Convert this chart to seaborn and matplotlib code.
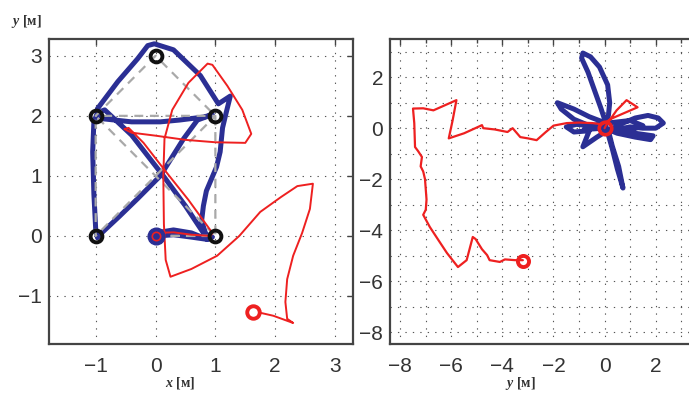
import numpy as np
import matplotlib
matplotlib.use('Agg')
import matplotlib.pyplot as plt
import seaborn as sns
from matplotlib.ticker import MultipleLocator

# waypoints of the reference path (left panel)
ref_x = [0, 1, -1, -1, 1, -1, 0, 1, 1, 0]
ref_y = [0, 0, 2, 0, 2, 2, 3, 2, 0, 0]
wp_x = [-1, -1, 0, 1, 1]
wp_y = [0, 2, 3, 2, 0]

# leader trajectory (blue), left panel
blue_x = [0.0, 0.3, 0.6, 0.85, 0.95,
          0.8, 0.5, 0.13, -0.4, -0.85, -0.97,
          -1.03, -1.05, -1.03, -1.0, -0.97,
          -0.9, -0.6, -0.3, 0.08, 0.47, 0.7, 0.95,
          0.8, 0.4, 0.08, -0.4, -0.87, -0.97,
          -0.97, -0.63, -0.3, -0.13, -0.02, 0.3, 0.75, 1.05, 1.25,
          1.18, 1.12, 1.08, 1.02, 0.85, 0.8, 0.77, 0.85, 0.88,
          0.6, 0.3, 0.05]
blue_y = [0.05, 0.1, 0.05, -0.05, -0.02,
          0.05, 0.5, 1.0, 1.68, 2.1, 2.05,
          1.9, 1.4, 0.7, 0.12, -0.03,
          0.05, 0.33, 0.62, 1.0, 1.62, 1.93, 2.02,
          1.98, 1.93, 1.9, 1.9, 1.95, 2.05,
          2.12, 2.57, 2.95, 3.17, 3.2, 3.1, 2.67, 2.2, 2.33,
          2.05, 1.8, 1.4, 1.15, 0.75, 0.5, 0.25, 0.0, -0.06,
          -0.02, 0.02, 0.0]

# follower trajectory (red), left panel
red_x = [0.02, 0.3, 0.6, 0.92, 0.95, 0.55, 0.15, -0.2, -0.45, -0.52, -0.4,
         0.0, 0.5, 1.0, 1.5, 1.6, 1.45, 1.2, 0.95, 0.87, 0.55, 0.28, 0.15,
         0.13, 0.14, 0.17, 0.25, 0.6, 1.03, 1.4, 1.75, 2.1, 2.37, 2.63,
         2.58, 2.45, 2.3, 2.2, 2.17, 2.2, 2.3, 1.97, 1.75]
red_y = [0.05, 0.06, 0.02, 0.0, 0.05, 0.6, 1.1, 1.55, 1.8, 1.78, 1.72,
         1.67, 1.6, 1.56, 1.55, 1.7, 2.1, 2.5, 2.85, 2.87, 2.55, 2.1, 1.62,
         1.0, 0.2, -0.4, -0.68, -0.55, -0.33, 0.0, 0.4, 0.65, 0.83, 0.87,
         0.45, 0.05, -0.33, -0.72, -1.1, -1.38, -1.45, -1.33, -1.28]
red_end = (1.63, -1.27)

# right panel: leader (blue star) and follower (red)
star_x = [0.0, 0.15, 0.2, 0.12, -0.2, -0.55, -0.85, -0.9, -0.65, -0.4, -0.15, 0.05,
          -0.6, -1.2, -1.85, -1.7, -1.2, -0.6,
          -1.1, -1.5, -1.2, -0.6,
          -0.85, -0.3, 0.1,
          0.3, 0.5, 0.72, 0.55, 0.3, 0.15,
          0.6, 1.2, 1.7, 2.1, 2.3, 2.0, 1.5, 1.0, 0.5,
          1.2, 1.9, 1.8, 1.2, 0.5, 0.0,
          -0.8, -0.5, 0.1, 1.0, 1.5, 0.8, 0.0]
star_y = [0.0, 0.5, 1.0, 1.7, 2.4, 2.8, 2.95, 2.75, 2.2, 1.5, 0.8, 0.2,
          0.45, 0.75, 1.0, 0.75, 0.35, 0.1,
          0.15, 0.05, -0.15, -0.1,
          -0.73, -0.35, -0.1,
          -0.8, -1.6, -2.35, -1.5, -0.7, -0.1,
          0.15, 0.4, 0.5, 0.4, 0.2, 0.0, 0.0, 0.05, -0.05,
          -0.2, -0.3, -0.45, -0.35, -0.2, 0.0,
          -0.05, 0.1, 0.2, 0.3, 0.1, -0.15, 0.0]

fol_x = [0.0, 0.05, 0.47, 0.86, 1.29, 0.3, -0.1, -0.47, -1.0, -1.48, -2.0, -2.3,
         -2.66, -3.0, -3.3, -3.6, -3.8, -4.3, -4.75, -4.8, -4.95, -5.5, -6.1,
         -5.95, -5.8, -6.7, -7.1, -7.5, -7.45, -7.42, -7.3, -7.15, -7.2, -7.1,
         -7.03, -6.97, -7.0, -7.1, -6.84, -6.5, -6.17, -5.74, -5.4, -5.16,
         -5.05, -4.8, -4.6, -4.5, -4.1, -3.9, -3.5, -3.2]
fol_y = [0.0, 0.1, 0.7, 1.1, 0.82, 0.39, 0.15, 0.2, 0.22, 0.2, 0.1, -0.15,
         -0.47, -0.4, -0.35, 0.0, -0.15, -0.05, 0.0, 0.12, 0.05, -0.2, -0.4,
         0.3, 1.1, 0.7, 0.78, 0.77, 0.2, -0.74, -0.9, -1.13, -1.5, -1.7,
         -2.0, -2.8, -3.2, -3.4, -3.88, -4.4, -4.9, -5.45, -5.18, -4.27,
         -4.35, -4.75, -4.98, -5.18, -5.25, -5.15, -5.18, -5.18]
fol_end = (-3.2, -5.2)

BLUE = '#2b2f94'
RED = '#ee2020'
GRAY = '#a9a9a9'
FRAME = '#444444'

sns.set_style('white')
plt.rcParams['font.family'] = ['Liberation Sans', 'DejaVu Sans']
plt.rcParams['mathtext.fontset'] = 'custom'
plt.rcParams['mathtext.it'] = 'Liberation Serif:italic:bold'
plt.rcParams['mathtext.rm'] = 'Liberation Serif:bold'

fig = plt.figure(figsize=(6.89, 3.94), dpi=100)
ax1 = fig.add_axes([49 / 689, 1 - 344 / 394, 304 / 689, 305 / 394])
ax2 = fig.add_axes([390 / 689, 1 - 344 / 394, 304 / 689, 305 / 394])

lab_kw = dict(family=['Liberation Serif', 'DejaVu Serif'], fontsize=10,
              fontweight='bold', color='#333333')
round_kw = dict(solid_joinstyle='round', solid_capstyle='round')

# ---- left panel
sns.lineplot(x=blue_x, y=blue_y, ax=ax1, sort=False, estimator=None,
             color=BLUE, linewidth=3.6, zorder=3, **round_kw)
sns.lineplot(x=ref_x, y=ref_y, ax=ax1, sort=False, estimator=None,
             color=GRAY, linewidth=1.6, linestyle=(0, (4, 3)), zorder=4)
sns.lineplot(x=red_x, y=red_y, ax=ax1, sort=False, estimator=None,
             color=RED, linewidth=1.4, zorder=5, **round_kw)
ax1.plot([0], [0], 'o', ms=12, mfc=BLUE, mec=BLUE, mew=1, zorder=6)
ax1.plot([0], [0], 'o', ms=6, mfc='none', mec=RED, mew=1.2, zorder=7)
ax1.plot(wp_x, wp_y, 'o', ms=8.5, mfc='none', mec='#111111', mew=2.8, zorder=8)
ax1.plot([red_end[0]], [red_end[1]], 'o', ms=9, mfc='none', mec=RED, mew=2.8, zorder=8)

ax1.set_xlim(-1.78, 3.3)
ax1.set_ylim(-1.8, 3.28)
ax1.set_xticks([-1, 0, 1, 2, 3])
ax1.set_yticks([-1, 0, 1, 2, 3])
ax1.set_xlabel(r'$x$ [м]', **lab_kw)
ax1.text(-0.076, 1.056, r'$y$ [м]', transform=ax1.transAxes,
         ha='center', va='center', **lab_kw)

# ---- right panel
sns.lineplot(x=star_x, y=star_y, ax=ax2, sort=False, estimator=None,
             color=BLUE, linewidth=3.6, zorder=3, **round_kw)
sns.lineplot(x=fol_x, y=fol_y, ax=ax2, sort=False, estimator=None,
             color=RED, linewidth=1.6, zorder=5, **round_kw)
ax2.plot([0], [0], 'o', ms=9, mfc='none', mec=RED, mew=2.6, zorder=6)
ax2.plot([fol_end[0]], [fol_end[1]], 'o', ms=8, mfc='none', mec=RED, mew=2.8, zorder=6)

ax2.set_xlim(-8.4, 3.5)
ax2.set_ylim(-8.47, 3.5)
ax2.set_xticks([-8, -6, -4, -2, 0, 2])
ax2.set_yticks([-8, -6, -4, -2, 0, 2])
ax2.xaxis.set_minor_locator(MultipleLocator(1))
ax2.yaxis.set_minor_locator(MultipleLocator(1))
ax2.set_xlabel(r'$y$ [м]', **lab_kw)

for ax in (ax1, ax2):
    for sp in ax.spines.values():
        sp.set_visible(True)
        sp.set_color(FRAME)
        sp.set_linewidth(1.6)
    ax.set_ylabel('')
    ax.xaxis.set_label_coords(0.43, -0.128)
    ax.xaxis.label.set_va('center')
    ax.grid(True, which='both', color='#555555', linewidth=0.8,
            linestyle=(0, (1.2, 5.5)))
    ax.set_axisbelow(True)
    ax.tick_params(which='both', direction='in', top=True, right=True,
                   color=FRAME, width=1.0)
    ax.tick_params(which='major', length=4, labelsize=15, labelcolor='#333333')
    ax.tick_params(which='minor', length=3)
    ax.tick_params(axis='x', pad=9)
    ax.tick_params(axis='y', pad=5)

fig.savefig('out.png', dpi=100)
